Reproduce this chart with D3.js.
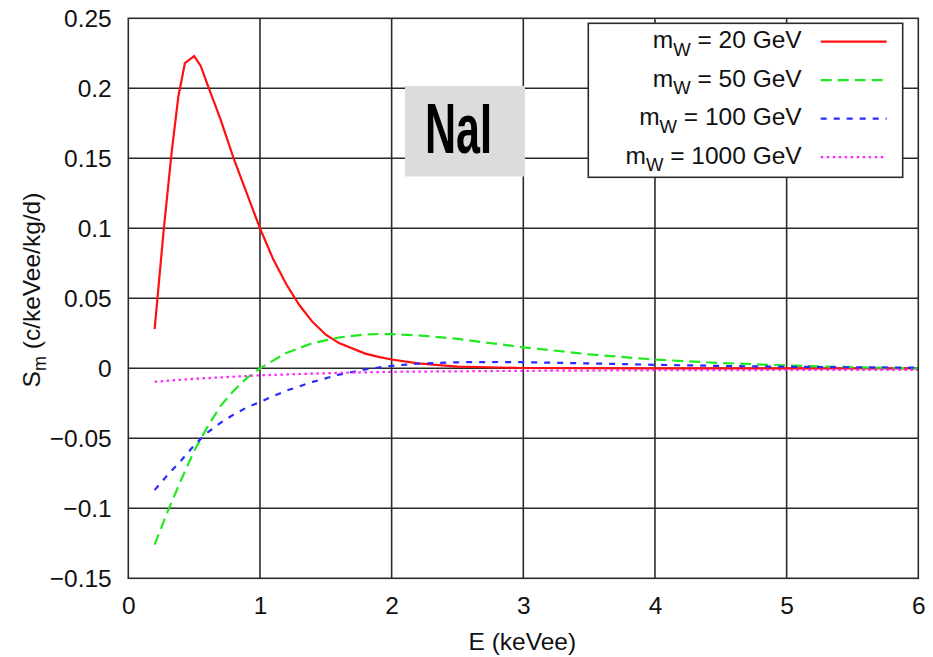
<!DOCTYPE html>
<html>
<head>
<meta charset="utf-8">
<script src="https://cdn.jsdelivr.net/npm/d3@7/dist/d3.min.js"></script>
<style>
  html, body { margin: 0; padding: 0; background: #fff; }
  svg { display: block; }
  text { font-family: "Liberation Sans", Arial, Helvetica, sans-serif; }
</style>
</head>
<body>
<svg id="chart" width="933" height="657"></svg>
<script>
// ---- data ----
const seriesNames = ["20 GeV", "50 GeV", "100 GeV", "1000 GeV"];
const seriesColors = ["#ff1010", "#22e822", "#2a2aff", "#ff22ff"];
const xTicks = [0, 1, 2, 3, 4, 5, 6];
const yTicks = [-0.15, -0.1, -0.05, 0, 0.05, 0.1, 0.15, 0.2, 0.25];
const yTickLabels = ["\u22120.15", "\u22120.1", "\u22120.05", "0", "0.05", "0.1", "0.15", "0.2", "0.25"];

const E20   = [0.2, 0.27, 0.33, 0.38, 0.43, 0.5, 0.55, 0.6, 0.7, 0.8, 0.9, 1.0, 1.1, 1.2, 1.3, 1.4, 1.5, 1.6, 1.8, 1.9, 2.0, 2.2, 2.5, 3.0, 4.0, 5.0, 6.0];
const S20   = [0.028, 0.100, 0.155, 0.194, 0.218, 0.223, 0.216, 0.203, 0.178, 0.150, 0.125, 0.100, 0.078, 0.060, 0.045, 0.033, 0.024, 0.018, 0.0105, 0.0082, 0.0063, 0.0035, 0.0012, 0.0002, 0.0, 0.0, 0.0];

const E50   = [0.2, 0.3, 0.4, 0.5, 0.6, 0.7, 0.8, 0.9, 1.0, 1.2, 1.4, 1.6, 1.8, 1.9, 2.0, 2.2, 2.5, 3.0, 3.5, 4.0, 4.5, 5.0, 5.5, 6.0];
const S50   = [-0.126, -0.102, -0.080, -0.059, -0.042, -0.027, -0.016, -0.007, 0.000, 0.011, 0.018, 0.022, 0.0242, 0.0245, 0.0244, 0.0235, 0.021, 0.015, 0.010, 0.0062, 0.0038, 0.002, 0.0008, 0.0];

const E100  = [0.2, 0.3, 0.4, 0.5, 0.6, 0.7, 0.8, 0.9, 1.0, 1.2, 1.4, 1.6, 1.8, 2.0, 2.2, 2.5, 2.8, 3.0, 3.5, 4.0, 4.5, 5.0, 6.0];
const S100  = [-0.087, -0.076, -0.066, -0.055, -0.046, -0.039, -0.033, -0.028, -0.024, -0.016, -0.0097, -0.0045, -0.0008, 0.0018, 0.0033, 0.0043, 0.0045, 0.0044, 0.0035, 0.0025, 0.0017, 0.0011, 0.0004];

const E1000 = [0.2, 0.5, 1.0, 1.5, 2.0, 3.0, 4.0, 5.0, 6.0];
const S1000 = [-0.0096, -0.0075, -0.005, -0.0035, -0.0025, -0.0018, -0.0014, -0.0012, -0.0011];

const seriesE = [E20, E50, E100, E1000];
const seriesS = [S20, S50, S100, S1000];
const dashes = [null, "11,6", "6,7", "2.5,3.5"];

// ---- layout ----
const svg = d3.select("#chart");
const pLeft = 128.3, pRight = 918.3, pTop = 18.3, pBottom = 578.3;
const x = d3.scaleLinear().domain([0, 6]).range([pLeft, pRight]);
const y = d3.scaleLinear().domain([-0.15, 0.25]).range([pBottom, pTop]);

// grid
const grid = svg.append("g").attr("stroke", "#2a2a2a").attr("stroke-width", 1.6);
xTicks.slice(1, -1).forEach(t => {
  grid.append("line").attr("x1", x(t)).attr("x2", x(t)).attr("y1", pTop).attr("y2", pBottom);
});
yTicks.slice(1, -1).forEach(t => {
  grid.append("line").attr("x1", pLeft).attr("x2", pRight).attr("y1", y(t)).attr("y2", y(t));
});

// axes (labels only)
const fs = 24.5;
const xAxis = d3.axisBottom(x).tickValues(xTicks).tickSize(0).tickPadding(18.5).tickFormat(d3.format("d"));
const gx = svg.append("g").attr("transform", `translate(0,${pBottom})`).call(xAxis);
gx.select(".domain").remove();
gx.selectAll("text").attr("font-size", fs).attr("fill", "#111").attr("font-family", "Liberation Sans, Arial, sans-serif");

const yAxis = d3.axisLeft(y).tickValues(yTicks).tickSize(0).tickPadding(16.6)
  .tickFormat((d, i) => yTickLabels[i]);
const gy = svg.append("g").attr("transform", `translate(${pLeft},0)`).call(yAxis);
gy.select(".domain").remove();
gy.selectAll("text").attr("font-size", fs).attr("fill", "#111").attr("font-family", "Liberation Sans, Arial, sans-serif");

// axis titles
svg.append("text").attr("x", (x(0) + x(6)) / 2 - 1).attr("y", 650)
  .attr("text-anchor", "middle").attr("font-size", fs).attr("fill", "#111").text("E (keVee)");
const yl = svg.append("text").attr("transform", "translate(40,290) rotate(-90)")
  .attr("text-anchor", "middle").attr("font-size", fs).attr("fill", "#111");
yl.append("tspan").text("S");
yl.append("tspan").attr("font-size", 18).attr("dy", 6).text("m");
yl.append("tspan").attr("dy", -6).text(" (c/keVee/kg/d)");

// curves
svg.append("clipPath").attr("id", "clip").append("rect")
  .attr("x", pLeft).attr("y", pTop).attr("width", pRight - pLeft).attr("height", pBottom - pTop);
const line = d3.line().x(d => x(d[0])).y(d => y(d[1]));
const curves = svg.append("g").attr("clip-path", "url(#clip)");
seriesE.forEach((es, i) => {
  const pts = es.map((e, j) => [e, seriesS[i][j]]);
  curves.append("path").datum(pts).attr("d", line)
    .attr("fill", "none").attr("stroke", seriesColors[i]).attr("stroke-width", 2.2)
    .attr("stroke-dasharray", dashes[i]);
});

// frame
svg.append("rect").attr("x", pLeft).attr("y", pTop).attr("width", pRight - pLeft).attr("height", pBottom - pTop)
  .attr("fill", "none").attr("stroke", "#2a2a2a").attr("stroke-width", 1.6);

// NaI label box
svg.append("rect").attr("x", 405).attr("y", 86).attr("width", 120).attr("height", 90.5).attr("fill", "#dcdcdc");
svg.append("text").attr("x", 425).attr("y", 153).attr("font-size", 70).attr("font-weight", "bold")
  .attr("textLength", 67).attr("lengthAdjust", "spacingAndGlyphs")
  .attr("font-family", "DejaVu Sans Condensed, DejaVu Sans, sans-serif").attr("fill", "#000").text("NaI");

// legend
const lg = svg.append("g");
lg.append("rect").attr("x", 588.3).attr("y", 23.3).attr("width", 314.4).attr("height", 154)
  .attr("fill", "#fff").attr("stroke", "#2a2a2a").attr("stroke-width", 1.6);
seriesNames.forEach((name, i) => {
  const cy = 41.7 + i * 38.5;
  const t = lg.append("text").attr("x", 801.7).attr("y", cy + 6.7).attr("text-anchor", "end")
    .attr("font-size", fs).attr("fill", "#111");
  t.append("tspan").text("m");
  t.append("tspan").attr("font-size", 18.5).attr("dy", 7.4).text("W");
  t.append("tspan").attr("dy", -7.4).text(" = " + name);
  lg.append("line").attr("x1", 820.7).attr("x2", 886.7).attr("y1", cy).attr("y2", cy)
    .attr("stroke", seriesColors[i]).attr("stroke-width", 2.2).attr("stroke-dasharray", dashes[i]);
});
</script>
</body>
</html>
